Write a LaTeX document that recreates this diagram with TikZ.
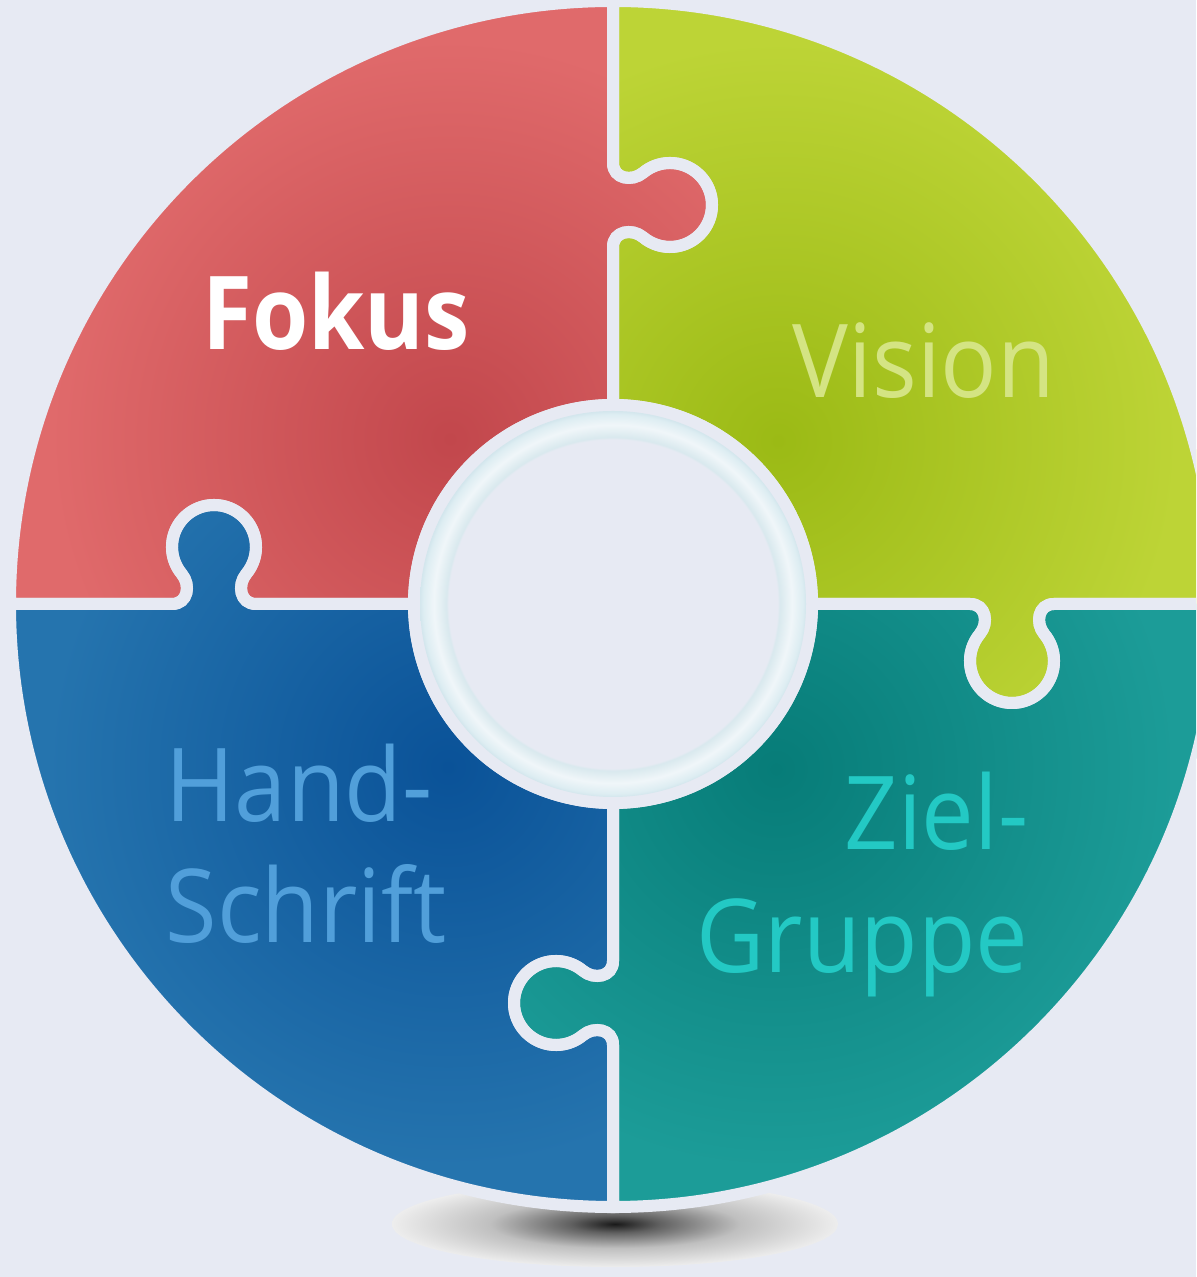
\documentclass[tikz,border=0pt]{standalone}
\usepackage{fontspec}
\setmainfont{Open Sans}
\definecolor{bg}{HTML}{E7EAF3}
\definecolor{redlight}{HTML}{E06A6B}
\definecolor{reddark}{HTML}{C2474C}
\definecolor{greenlight}{HTML}{BDD436}
\definecolor{greendark}{HTML}{9BBA15}
\definecolor{bluelight}{HTML}{2574AE}
\definecolor{bluedark}{HTML}{0A5298}
\definecolor{teallight}{HTML}{1C9C98}
\definecolor{tealdark}{HTML}{077C78}
\definecolor{visiontext}{HTML}{D4E483}
\definecolor{handtext}{HTML}{519FDA}
\definecolor{zieltext}{HTML}{23C9C4}
\definecolor{ringedge}{HTML}{D3E6ED}
\definecolor{ringmid}{HTML}{DDEDF2}
\definecolor{ringhi}{HTML}{F0F6F9}
\definecolor{ringin}{HTML}{D9E9EE}
\pgfdeclareradialshading{shadowshade}{\pgfpoint{0bp}{0bp}}{color(0bp)=(black!90); color(5bp)=(black!62); color(14bp)=(black!25); color(25bp)=(black!7); color(50bp)=(black!7)}
\pgfdeclareradialshading{ringshade}{\pgfpoint{0bp}{0bp}}{color(0bp)=(bg); color(21.3bp)=(bg); color(21.6bp)=(ringin); color(23.2bp)=(ringhi); color(24.6bp)=(ringmid); color(25bp)=(ringedge); color(50bp)=(ringedge)}
\newcommand{\piecepath}{(199,0) -- (357,0) .. controls (373,0) and (376,-19) .. (366.8,-30) arc[start angle=140, end angle=400, radius=42] .. controls (422,-19) and (425,0) .. (441,0) -- (603,0) arc[start angle=0, end angle=90, radius=603] -- (0,441) .. controls (0,425) and (19,422) .. (30,431.2) arc[start angle=130, end angle=-130, radius=42] .. controls (19,376) and (0,373) .. (0,357) -- (0,199) arc[start angle=90, end angle=0, radius=199] -- cycle}

\begin{document}
\begin{tikzpicture}[x=0.01cm, y=0.01cm,
	gap/.style = {draw=bg, line width=0.12cm},
	word/.style = {inner sep=0pt, font=\fontsize{29}{35}\selectfont, transform shape, xscale=0.92}]
	\fill[bg] (-613,-673) rectangle (583,604);
	\clip (-613,-673) rectangle (583,604);
	\shade[shading=shadowshade] (2,-620) ellipse (223 and 43);
	\begin{scope}
		\fill[greenlight] \piecepath;
		\clip \piecepath;
		\shade[inner color=greendark, outer color=greenlight] (165,163) circle (400);
	\end{scope}
	\begin{scope}[rotate=90]
		\fill[redlight] \piecepath;
		\clip \piecepath;
		\shade[inner color=reddark, outer color=redlight] (165,163) circle (400);
	\end{scope}
	\begin{scope}[rotate=180]
		\fill[bluelight] \piecepath;
		\clip \piecepath;
		\shade[inner color=bluedark, outer color=bluelight] (165,163) circle (400);
	\end{scope}
	\begin{scope}[rotate=270]
		\fill[teallight] \piecepath;
		\clip \piecepath;
		\shade[inner color=tealdark, outer color=teallight] (165,163) circle (400);
	\end{scope}
	\draw[gap] \piecepath;
	\draw[gap, rotate=90] \piecepath;
	\draw[gap, rotate=180] \piecepath;
	\draw[gap, rotate=270] \piecepath;
	\fill[bg] (0,0) circle (205);
	\shade[shading=ringshade] (0,0) circle (193);
	\node[word, text=white, font=\fontsize{29}{35}\selectfont\bfseries, xscale=0.97, anchor=base] (fokus) at (-277,254) {Fokus};
	\node[word, text=visiontext, anchor=base] (vision) at (311,206) {Vision};
	\node[word, text=handtext, anchor=base west] (hand) at (-448,-218) {Hand-};
	\node[word, text=handtext, anchor=base west] (schrift) at (-448,-339) {Schrift};
	\node[word, text=zieltext, anchor=base east] (ziel) at (416,-246) {Ziel-};
	\node[word, text=zieltext, anchor=base east] (gruppe) at (416,-369) {Gruppe};
\end{tikzpicture}
\end{document}
